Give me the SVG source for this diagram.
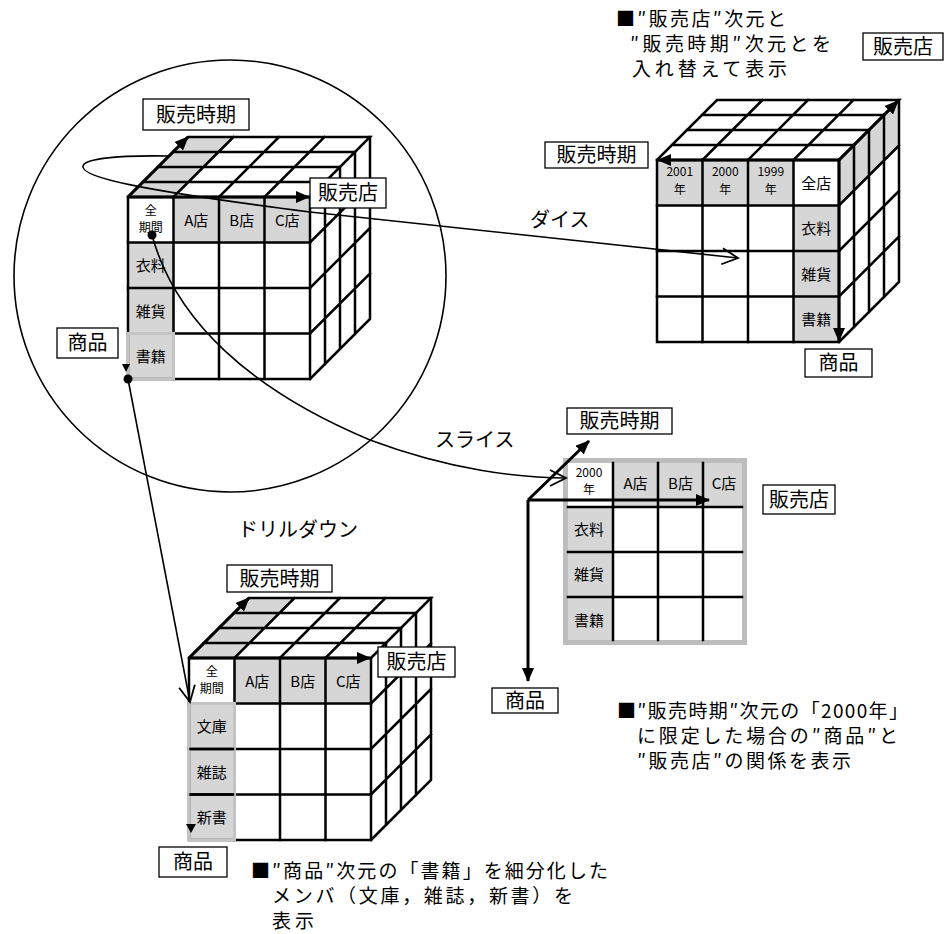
<svg xmlns="http://www.w3.org/2000/svg" width="951" height="934" viewBox="0 0 951 934">
<style>
text{font-family:"Noto Sans CJK JP","Noto Sans",sans-serif;fill:#000}
.grid{stroke:#000;stroke-width:2.5;fill:none;stroke-linecap:square}
.face{fill:#fff}
.sh{fill:#d6d6d6}
.gb{fill:none;stroke:#c4c4c4;stroke-width:3}
.lbl rect{fill:#fff;stroke:#000;stroke-width:1.3}
.lbl text{font-size:20px;text-anchor:middle}
.c{font-size:15px;text-anchor:middle}
.c2{font-size:12px;text-anchor:middle}
.note{font-size:19px}
.tag{font-size:20px}
.conn{fill:none;stroke:#000;stroke-width:1.6}
.axis{fill:none;stroke:#000;stroke-width:3}
</style>
<defs>
<marker id="ah" viewBox="0 0 14 12" refX="13" refY="6" markerWidth="14" markerHeight="12" markerUnits="userSpaceOnUse" orient="auto"><path d="M0,0 L14,6 L0,12 Z" fill="#000"/></marker>
<marker id="oh" viewBox="0 0 20 20" refX="18" refY="10" markerWidth="20" markerHeight="20" markerUnits="userSpaceOnUse" orient="auto"><path d="M2,2 L18,10 L2,18" fill="none" stroke="#000" stroke-width="1.8"/></marker>
<path id="cubeface" class="face" d="M0,0 L60,-60 L242,-60 L242,122 L182,182 L0,182 Z"/>
<g id="cubegrid" class="grid">
<rect x="0" y="0" width="182" height="182"/>
<path d="M45.5,0V182M91,0V182M136.5,0V182M0,45.5H182M0,91H182M0,136.5H182"/>
<path d="M0,0L60,-60H242L182,0M15,-15H197M30,-30H212M45,-45H227M45.5,0L105.5,-60M91,0L151,-60M136.5,0L196.5,-60"/>
<path d="M242,-60V122L182,182M197,-15V167M212,-30V152M227,-45V137M182,45.5L242,-14.5M182,91L242,31M182,136.5L242,76.5"/>
</g>
</defs>
<rect width="951" height="934" fill="#fff"/>

<g id="cube-original">
<g transform="translate(128,197)">
<use href="#cubeface"/>
<path class="sh" d="M0,0 L45.5,0 L105.5,-60 L60,-60 Z"/>
<rect class="sh" x="45.5" y="0" width="136.5" height="45.5"/>
<rect class="sh" x="0" y="45.5" width="45.5" height="136.5"/>
<use href="#cubegrid"/>
<rect class="gb" x="0" y="136.5" width="45.5" height="45.5"/>
</g>
<line class="axis" x1="128" y1="197" x2="188" y2="137" marker-end="url(#ah)"/>
<line class="axis" x1="128" y1="197" x2="309" y2="197" marker-end="url(#ah)"/>
<polygon points="122,364 130,364 126,372" fill="#000"/>
<text class="c2" x="150.75" y="214.5">全</text>
<text class="c2" x="150.75" y="232">期間</text>
<text class="c" x="196.25" y="225.5">A店</text>
<text class="c" x="241.75" y="225.5">B店</text>
<text class="c" x="287.25" y="225.5">C店</text>
<text class="c" x="150.75" y="271">衣料</text>
<text class="c" x="150.75" y="316.5">雑貨</text>
<text class="c" x="150.75" y="362">書籍</text>
<g class="lbl"><rect x="143" y="99" width="106" height="31"/><text x="196" y="121.5">販売時期</text></g>
<g class="lbl"><rect x="310" y="178" width="76" height="30"/><text x="348" y="200">販売店</text></g>
<g class="lbl"><rect x="57" y="328" width="61" height="30"/><text x="87.5" y="350">商品</text></g>
</g>

<g id="cube-dice">
<g transform="translate(657,160)">
<use href="#cubeface"/>
<rect class="sh" x="0" y="0" width="136.5" height="45.5"/>
<rect class="sh" x="136.5" y="45.5" width="45.5" height="136.5"/>
<path class="sh" d="M182,0 L242,-60 L242,-14.5 L182,45.5 Z"/>
<use href="#cubegrid"/>
</g>
<line class="axis" x1="839" y1="160" x2="658" y2="160" marker-end="url(#ah)"/>
<line class="axis" x1="839" y1="160" x2="898" y2="101" marker-end="url(#ah)"/>
<line class="axis" x1="839" y1="160" x2="839" y2="341" marker-end="url(#ah)"/>
<text class="c2" x="679.75" y="176">2001</text>
<text class="c2" x="679.75" y="193.5">年</text>
<text class="c2" x="725.25" y="176">2000</text>
<text class="c2" x="725.25" y="193.5">年</text>
<text class="c2" x="770.75" y="176">1999</text>
<text class="c2" x="770.75" y="193.5">年</text>
<text class="c" x="816.25" y="188.5">全店</text>
<text class="c" x="816.25" y="234">衣料</text>
<text class="c" x="816.25" y="279.5">雑貨</text>
<text class="c" x="816.25" y="325">書籍</text>
<g class="lbl"><rect x="545" y="142" width="103" height="26"/><text x="596.5" y="162">販売時期</text></g>
<g class="lbl"><rect x="863" y="33" width="80" height="27"/><text x="903" y="53.5">販売店</text></g>
<g class="lbl"><rect x="805" y="349" width="67" height="28"/><text x="838.5" y="370">商品</text></g>
</g>

<g id="slice">
<rect class="sh" x="613" y="463" width="132" height="44"/>
<rect class="sh" x="568" y="507" width="45" height="133"/>
<rect x="565.5" y="460.5" width="179" height="182" fill="none" stroke="#bdbdbd" stroke-width="5"/>
<path class="grid" d="M613,463V640M658,463V640M703,463V640M568,507H742M568,552H742M568,597H742"/>
<line class="axis" x1="528" y1="500" x2="589" y2="441" marker-end="url(#ah)"/>
<line class="axis" x1="528" y1="500" x2="709" y2="500" marker-end="url(#ah)"/>
<line class="axis" x1="528" y1="500" x2="528" y2="681" marker-end="url(#ah)"/>
<text class="c2" x="589" y="476.5">2000</text>
<text class="c2" x="589" y="494">年</text>
<text class="c" x="635.5" y="489">A店</text>
<text class="c" x="680.5" y="489">B店</text>
<text class="c" x="724" y="489">C店</text>
<text class="c" x="589" y="535">衣料</text>
<text class="c" x="589" y="580">雑貨</text>
<text class="c" x="589" y="625.5">書籍</text>
<g class="lbl"><rect x="567" y="408" width="105" height="26"/><text x="619.5" y="428">販売時期</text></g>
<g class="lbl"><rect x="763" y="485" width="72" height="29"/><text x="799" y="506.5">販売店</text></g>
<g class="lbl"><rect x="492" y="688" width="66" height="25"/><text x="525" y="707.5">商品</text></g>
</g>

<g id="cube-drilldown">
<g transform="translate(189,658)">
<use href="#cubeface"/>
<path class="sh" d="M0,0 L45.5,0 L105.5,-60 L60,-60 Z"/>
<rect class="sh" x="45.5" y="0" width="136.5" height="45.5"/>
<rect class="sh" x="0" y="45.5" width="45.5" height="136.5"/>
<use href="#cubegrid"/>
<rect class="gb" x="0" y="45.5" width="45.5" height="136.5"/>
<path class="grid" d="M1.5,91H44M1.5,136.5H44"/>
</g>
<line class="axis" x1="189" y1="658" x2="249" y2="598" marker-end="url(#ah)"/>
<line class="axis" x1="189" y1="658" x2="370" y2="658" marker-end="url(#ah)"/>
<polygon points="186,824 196,824 191,833" fill="#000"/>
<text class="c2" x="211.75" y="675.5">全</text>
<text class="c2" x="211.75" y="693">期間</text>
<text class="c" x="257.25" y="686.5">A店</text>
<text class="c" x="302.75" y="686.5">B店</text>
<text class="c" x="348.25" y="686.5">C店</text>
<text class="c" x="211.75" y="732">文庫</text>
<text class="c" x="211.75" y="777.5">雑誌</text>
<text class="c" x="211.75" y="823">新書</text>
<g class="lbl"><rect x="227" y="565" width="105" height="27"/><text x="279.5" y="585.5">販売時期</text></g>
<g class="lbl"><rect x="378" y="647" width="77" height="30"/><text x="416.5" y="669">販売店</text></g>
<g class="lbl"><rect x="159" y="847" width="68" height="30"/><text x="193" y="869">商品</text></g>
</g>

<g id="connectors">
<circle class="conn" cx="230" cy="276" r="216"/>
<path class="conn" d="M169,156 C115,155 82,159 83,167 C84,177 130,189 310,212 L738,258" marker-end="url(#oh)"/>
<path class="conn" d="M152,235 C175,320 250,390 370,440 C450,470 520,478 566,478" marker-end="url(#oh)"/>
<path class="conn" d="M128,379 L190,702" marker-end="url(#oh)"/>
<circle cx="152" cy="235" r="4.5" fill="#000"/>
<circle cx="128" cy="379" r="4.5" fill="#000"/>
</g>

<g id="captions">
<text class="tag" x="530" y="227">ダイス</text>
<text class="tag" x="435" y="447">スライス</text>
<text class="tag" x="238" y="537">ドリルダウン</text>
<text class="note" x="616" y="26" textLength="170" lengthAdjust="spacing">■″販売店″次元と</text>
<text class="note" x="630" y="51" textLength="201" lengthAdjust="spacing">″販売時期″次元とを</text>
<text class="note" x="632" y="76" textLength="155" lengthAdjust="spacing">入れ替えて表示</text>
<text class="note" x="617" y="718" textLength="291" lengthAdjust="spacing">■″販売時期″次元の「2000年」</text>
<text class="note" x="637" y="743" textLength="261" lengthAdjust="spacing">に限定した場合の″商品″と</text>
<text class="note" x="637" y="768" textLength="214" lengthAdjust="spacing">″販売店″の関係を表示</text>
<text class="note" x="251" y="878" textLength="357" lengthAdjust="spacing">■″商品″次元の「書籍」を細分化した</text>
<text class="note" x="272" y="903" textLength="301" lengthAdjust="spacing">メンバ（文庫，雑誌，新書）を</text>
<text class="note" x="272" y="928" textLength="42" lengthAdjust="spacing">表示</text>
</g>
</svg>
